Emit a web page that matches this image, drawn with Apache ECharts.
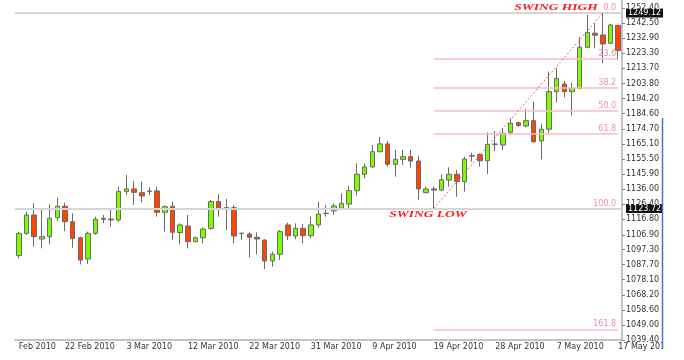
<!DOCTYPE html>
<html>
<head>
<meta charset="utf-8">
<script src="https://cdn.jsdelivr.net/npm/echarts@6/dist/echarts.min.js"></script>
<style>html,body{margin:0;padding:0;background:#fff;}#c{width:684px;height:360px;}</style>
</head>
<body>
<div id="c"></div>
<script>
const categories = [
 '15 Feb 2010','16 Feb 2010','17 Feb 2010','18 Feb 2010','19 Feb 2010','21 Feb 2010',
 '22 Feb 2010','23 Feb 2010','24 Feb 2010','25 Feb 2010','26 Feb 2010','28 Feb 2010',
 '1 Mar 2010','2 Mar 2010','3 Mar 2010','4 Mar 2010','5 Mar 2010','7 Mar 2010',
 '8 Mar 2010','9 Mar 2010','10 Mar 2010','11 Mar 2010','12 Mar 2010','14 Mar 2010',
 '15 Mar 2010','16 Mar 2010','17 Mar 2010','18 Mar 2010','19 Mar 2010','21 Mar 2010',
 '22 Mar 2010','23 Mar 2010','24 Mar 2010','25 Mar 2010','26 Mar 2010','28 Mar 2010',
 '29 Mar 2010','30 Mar 2010','31 Mar 2010','1 Apr 2010','2 Apr 2010','4 Apr 2010',
 '5 Apr 2010','6 Apr 2010','7 Apr 2010','8 Apr 2010','9 Apr 2010','11 Apr 2010',
 '12 Apr 2010','13 Apr 2010','14 Apr 2010','15 Apr 2010','16 Apr 2010','18 Apr 2010',
 '19 Apr 2010','20 Apr 2010','21 Apr 2010','22 Apr 2010','23 Apr 2010','25 Apr 2010',
 '26 Apr 2010','27 Apr 2010','28 Apr 2010','29 Apr 2010','30 Apr 2010','2 May 2010',
 '3 May 2010','4 May 2010','5 May 2010','6 May 2010','7 May 2010','9 May 2010',
 '10 May 2010','11 May 2010','12 May 2010','13 May 2010','14 May 2010','16 May 2010',
 '17 May 2010'
];
const opens = [
 1093.5,1107.8,1119.6,1104.2,1105.7,1117.9,1125.2,1115.3,1105.0,1091.4,
 1107.8,1117.5,1117.0,1116.4,1134.6,1136.3,1133.9,1134.6,1135.0,1121.3,
 1125.2,1108.3,1112.5,1102.5,1105.0,1111.0,1128.2,1124.3,1124.3,1107.9,
 1107.4,1105.3,1103.5,1090.1,1094.4,1113.2,1106.1,1111.0,1106.3,1113.2,
 1120.5,1122.2,1123.9,1126.6,1135.2,1145.7,1150.4,1160.2,1165.2,1152.1,
 1155.3,1157.0,1154.2,1133.9,1136.3,1135.6,1142.0,1145.7,1141.0,1157.4,
 1158.3,1154.4,1164.9,1164.5,1172.6,1178.8,1176.7,1180.1,1167.1,1174.6,
 1198.7,1203.6,1198.7,1200.9,1227.2,1236.2,1235.1,1229.7,1241.3
];
const closes = [
 1107.8,1119.6,1105.7,1105.7,1117.5,1125.2,1115.3,1104.6,1090.7,1107.8,
 1116.8,1116.8,1116.4,1134.6,1136.3,1134.1,1131.8,1135.0,1121.3,1124.9,
 1108.5,1113.2,1102.5,1105.0,1110.6,1128.2,1123.9,1123.9,1106.1,1107.8,
 1105.3,1104.2,1090.1,1094.4,1108.9,1106.3,1111.0,1106.3,1113.2,1120.2,
 1120.7,1125.4,1127.1,1135.2,1145.7,1150.4,1160.2,1165.2,1152.1,1155.3,
 1157.0,1154.2,1136.3,1136.3,1135.6,1142.2,1145.7,1141.0,1155.5,1157.7,
 1154.4,1164.9,1165.1,1172.0,1178.4,1176.9,1180.1,1166.6,1174.6,1198.7,
 1207.1,1198.7,1201.1,1227.2,1236.6,1234.9,1229.3,1241.5,1225.0
];
const lows = [
 1091.8,1106.8,1099.3,1098.2,1100.8,1115.7,1109.3,1098.6,1087.9,1088.2,
 1106.8,1114.3,1112.1,1115.3,1132.4,1126.0,1127.7,1132.4,1118.5,1108.9,
 1103.6,1100.8,1098.2,1102.1,1101.4,1110.0,1118.5,1110.0,1101.4,1103.5,
 1092.4,1094.4,1084.9,1086.4,1090.7,1103.5,1104.0,1101.4,1104.6,1111.5,
 1118.5,1119.6,1123.4,1122.8,1132.0,1143.1,1150.0,1159.8,1150.6,1144.2,
 1151.7,1150.0,1129.2,1133.5,1123.7,1135.0,1137.8,1131.3,1134.6,1153.8,
 1150.6,1145.9,1160.6,1161.3,1170.9,1176.3,1175.8,1166.0,1155.3,1172.0,
 1191.7,1195.1,1183.3,1200.2,1226.5,1226.5,1216.9,1229.3,1219.0
];
const highs = [
 1108.9,1121.7,1127.1,1123.9,1126.4,1130.7,1127.5,1120.7,1105.7,1108.9,
 1118.5,1119.6,1123.5,1137.8,1145.3,1141.4,1141.0,1137.4,1137.8,1125.6,
 1128.2,1114.3,1119.6,1105.7,1111.5,1129.2,1132.9,1129.9,1126.0,1108.0,
 1108.5,1108.5,1104.0,1096.1,1110.0,1114.7,1114.2,1113.8,1118.5,1128.1,
 1126.0,1127.1,1133.5,1138.2,1152.7,1152.7,1164.5,1169.6,1167.1,1161.3,
 1161.3,1161.3,1157.5,1137.8,1137.8,1145.7,1150.2,1148.5,1157.0,1159.6,
 1159.2,1172.6,1173.5,1175.2,1181.6,1179.5,1187.6,1192.3,1178.0,1211.6,
 1213.7,1205.6,1204.5,1233.6,1247.9,1242.6,1249.12,1242.1,1241.3
];
const yTickValues = [1039.40,1049.00,1058.60,1068.20,1078.10,1087.70,1097.30,1106.90,1116.80,1126.40,
 1136.00,1145.90,1155.50,1165.10,1174.70,1184.60,1194.20,1203.80,1213.70,1223.30,1232.90,1242.50,1252.40];
const xLabelIdx = [0,6,14,22,30,38,46,54,62,70,78];
const swingHigh = 1249.12, swingLow = 1123.72;
const swingHighIdx = 76, swingLowIdx = 54;
const fibLevels = ['0.0','23.6','38.2','50.0','61.8','100.0','161.8'];

const ohlc = opens.map((o,i)=>[o, closes[i], lows[i], highs[i]]);
const PINK = '#f6bcc8', PINKTXT = '#f28ea2';

const markData = [];
fibLevels.forEach(l=>{
  const v = swingHigh - parseFloat(l)/100*(swingHigh-swingLow);
  const hidden = (l==='0.0' || l==='100.0');
  markData.push([
    {coord:[categories[swingLowIdx], v],
     lineStyle:{color: hidden ? 'rgba(255,255,255,0)' : PINK, width:1.5, type:'solid'},
     label:{show:true, position:'insideEndTop', formatter:l, color:PINKTXT, fontSize:8,
            fontFamily:'DejaVu Sans', distance:[2,1]}},
    {coord:[categories[categories.length-1], v]}
  ]);
});
[swingHigh, swingLow].forEach(v=>{
  markData.push({yAxis:v, lineStyle:{color:'#d6d6d6', width:2, type:'solid'},
    label:{show:true, position:'end', formatter:v.toFixed(2), color:'#fff', backgroundColor:'#111',
           fontSize:8, fontFamily:'DejaVu Sans', padding:[1,2,0,2], distance:4}});
});
markData.push([
  {coord:[categories[swingLowIdx], swingLow], lineStyle:{color:'#ff5a5a', width:1, type:[2,2]}, label:{show:false}},
  {coord:[categories[swingHighIdx], swingHigh]}
]);

const chart = echarts.init(document.getElementById('c'), null, {renderer:'canvas'});
chart.setOption({
  animation:false,
  backgroundColor:'#fff',
  grid:{left:15, right:62, top:0, bottom:20},
  xAxis:{
    type:'category', data:categories, boundaryGap:true,
    axisLine:{lineStyle:{color:'#b0b0b0', width:1.5}},
    axisTick:{interval:(i)=>xLabelIdx.includes(i), alignWithLabel:true, length:3, lineStyle:{color:'#888'}},
    axisLabel:{interval:(i)=>xLabelIdx.includes(i), formatter:(v,i)=> i===0 ? 'Feb 2010' : v,
      align:'left', fontSize:8, fontFamily:'DejaVu Sans', color:'#333', margin:3},
    splitLine:{show:false}
  },
  yAxis:{
    type:'value', position:'right', min:1039.4, max:1257.5, scale:true,
    axisLine:{show:true, lineStyle:{color:'#b0b0b0', width:1.5}},
    axisTick:{show:true, customValues:yTickValues, length:3, lineStyle:{color:'#888'}},
    axisLabel:{customValues:yTickValues, formatter:(v)=>Number(v).toFixed(2), fontSize:8,
      fontFamily:'DejaVu Sans', color:'#333', margin:4},
    splitLine:{show:false}
  },
  series:[{
    type:'candlestick',
    data:ohlc,
    barWidth:5,
    itemStyle:{color:'#7cfc00', color0:'#ff4500', borderColor:'#6a6a6a', borderColor0:'#6a6a6a', borderWidth:1},
    markLine:{silent:true, symbol:['none','none'], animation:false, precision:2, data:markData}
  }],
  graphic:[
    {type:'text', x:556, y:8, scaleX:1.5, z:50,
     style:{text:'SWING HIGH', font:'italic bold 9px "Liberation Serif"', fill:'#ff1a1a', align:'center', verticalAlign:'middle'}},
    {type:'text', x:428, y:215, scaleX:1.5, z:50,
     style:{text:'SWING LOW', font:'italic bold 9px "Liberation Serif"', fill:'#ff1a1a', align:'center', verticalAlign:'middle'}},
    {type:'rect', z:100, shape:{x:663, y:0, width:21, height:360}, style:{fill:'#fff'}},
    {type:'line', z:101, shape:{x1:662.5, y1:118, x2:662.5, y2:348}, style:{stroke:'#3c78d8', lineWidth:1.5}}
  ]
});
</script>
</body>
</html>
